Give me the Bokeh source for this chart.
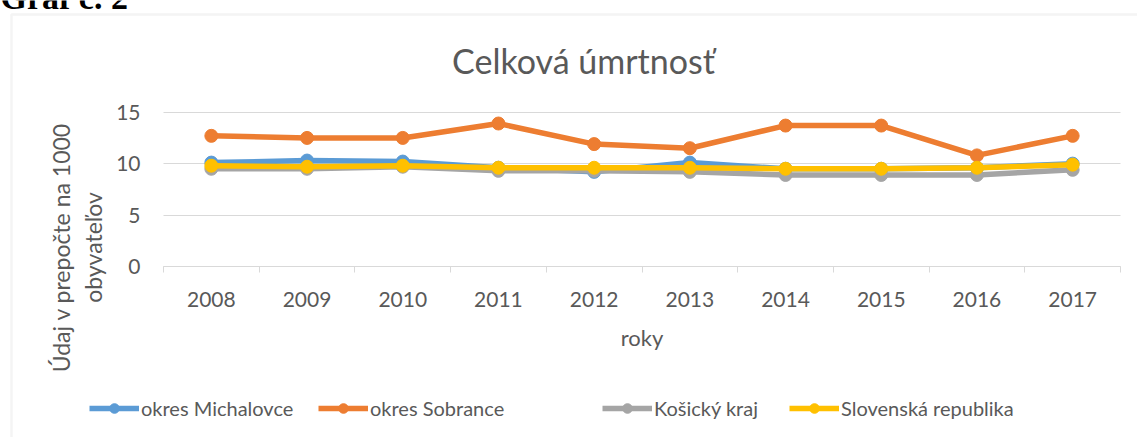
from bokeh.plotting import figure
from bokeh.models import (FixedTicker, Legend, LegendItem, Range1d, LinearAxis, Grid,
                          Label, BoxAnnotation)
from bokeh.embed import file_html
from bokeh.resources import INLINE
import math

years = [2008, 2009, 2010, 2011, 2012, 2013, 2014, 2015, 2016, 2017]
michalovce = [10.1, 10.3, 10.2, 9.6, 9.2, 10.1, 9.5, 9.5, 9.6, 10.0]
sobrance = [12.7, 12.5, 12.5, 13.9, 11.9, 11.5, 13.7, 13.7, 10.8, 12.7]
kosicky = [9.5, 9.5, 9.7, 9.3, 9.3, 9.2, 8.9, 8.9, 8.9, 9.4]
slovensko = [9.8, 9.7, 9.8, 9.6, 9.6, 9.6, 9.5, 9.5, 9.6, 9.9]
series_names = ["okres Michalovce", "okres Sobrance", "Košický kraj", "Slovenská republika"]
colors = ["#5B9BD5", "#ED7D31", "#A5A5A5", "#FFC000"]
y_ticks = [0, 5, 10, 15]

FONT = "Lato"
TXT = "#595959"
GRID = "#d9d9d9"

W, H = 1137, 437
# plot area in canvas pixels
PL, PR, PT, PB = 163, 1120, 111.7, 266
x0, x1 = years[0] - 0.5, years[-1] + 0.5
y0, y1 = y_ticks[0], y_ticks[-1]
kx = (PR - PL) / (x1 - x0)
ky = (PB - PT) / (y1 - y0)


def dx(px):
    return x0 + (px - PL) / kx


def dy(py):
    return y0 + (PB - py) / ky


p = figure(width=W, height=H, output_backend="svg", toolbar_location=None,
           title_location=None, x_axis_type=None, y_axis_type=None,
           x_range=Range1d(dx(0), dx(W)), y_range=Range1d(dy(H), dy(0)),
           min_border=0)
p.outline_line_color = None
p.background_fill_color = "white"
p.border_fill_color = "white"

# chart border
p.add_layout(BoxAnnotation(left=dx(11), right=dx(W + 20), top=dy(14), bottom=dy(H + 20),
                           fill_color=None, line_color=GRID, line_width=2.5, level="underlay"))

xa = LinearAxis(fixed_location=y0, bounds=(x0, x1),
                ticker=FixedTicker(ticks=years,
                                   minor_ticks=[y - 0.5 for y in years] + [years[-1] + 0.5]))
xa.major_tick_out = 0
xa.major_tick_in = 0
xa.minor_tick_out = 6
xa.minor_tick_in = 0
xa.minor_tick_line_color = GRID
xa.axis_line_color = GRID
xa.major_label_text_font = FONT
xa.major_label_text_font_size = "21px"
xa.major_label_text_color = TXT
xa.major_label_standoff = 19
xa.axis_label = "roky"
xa.axis_label_text_font = FONT
xa.axis_label_text_font_size = "22px"
xa.axis_label_text_font_style = "normal"
xa.axis_label_text_color = TXT
xa.axis_label_standoff = 14
p.add_layout(xa, "below")

ya = LinearAxis(fixed_location=x0, bounds=(y0, y1), ticker=FixedTicker(ticks=y_ticks))
ya.axis_line_color = None
ya.major_tick_line_color = None
ya.minor_tick_line_color = None
ya.major_label_text_font = FONT
ya.major_label_text_font_size = "21px"
ya.major_label_text_color = TXT
ya.major_label_standoff = 17
p.add_layout(ya, "left")

p.add_layout(Grid(dimension=1, ticker=FixedTicker(ticks=y_ticks), bounds=(y0, y1),
                  cross_bounds=(x0, x1), grid_line_color=GRID, level="underlay"))

vals = [michalovce, sobrance, kosicky, slovensko]
legend_px = [89, 318, 602, 789]
for name, col, v, lx in zip(series_names, colors, vals, legend_px):
    lr = p.line(years, v, line_color=col, line_width=5.5)
    sr = p.scatter(years, v, size=13, fill_color=col, line_color=col)
    lg = Legend(items=[LegendItem(label=name, renderers=[lr, sr])], location=(lx, H - 420),
                orientation="horizontal", padding=0, margin=0, spacing=0,
                border_line_color=None, background_fill_alpha=0,
                glyph_width=50, glyph_height=24, label_standoff=2,
                label_text_font=FONT, label_text_font_size="20px", label_text_color=TXT)
    p.add_layout(lg, "center")

p.add_layout(Label(x=dx(583), y=dy(60), text="Celková úmrtnosť", text_font=FONT,
                   text_font_size="34px", text_color=TXT, text_align="center",
                   text_baseline="middle"))
p.add_layout(Label(x=dx(60), y=dy(247), text="Údaj v prepočte na 1000", angle=math.pi / 2,
                   text_font=FONT, text_font_size="23px", text_color=TXT,
                   text_align="center", text_baseline="middle"))
p.add_layout(Label(x=dx(92), y=dy(247), text="obyvateľov", angle=math.pi / 2,
                   text_font=FONT, text_font_size="23px", text_color=TXT,
                   text_align="center", text_baseline="middle"))
p.add_layout(Label(x=dx(0), y=dy(-3), text="Graf č. 2", text_font="Liberation Serif",
                   text_font_style="bold", text_font_size="34px", text_color="black",
                   text_align="left", text_baseline="alphabetic"))

open("out.html", "w").write(file_html(p, INLINE))
